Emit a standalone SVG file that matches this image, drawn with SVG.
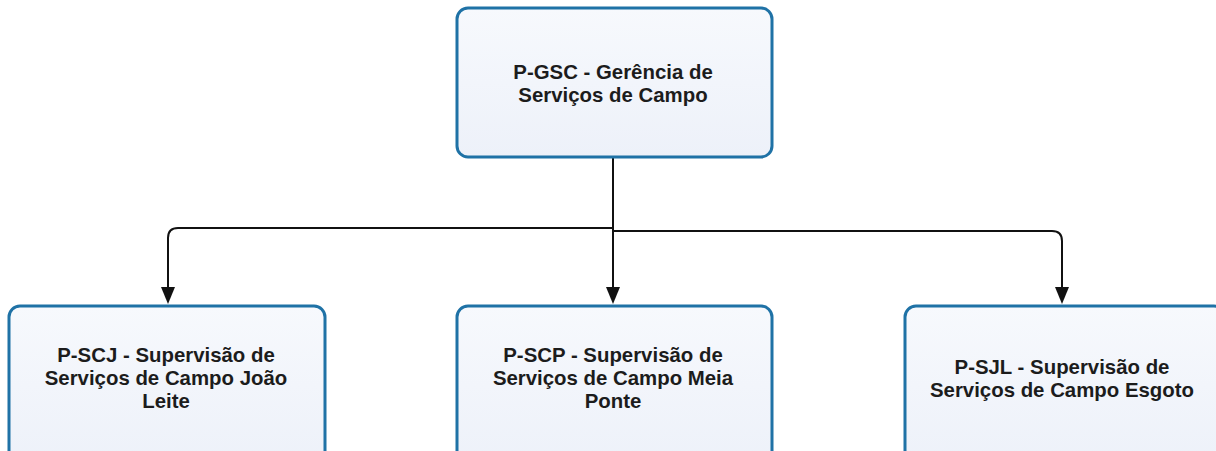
<svg xmlns="http://www.w3.org/2000/svg" width="1216" height="451" viewBox="0 0 1216 451">
<style>
.box{fill:url(#g);stroke:#1f72a6;stroke-width:3}
.t{font-family:"Liberation Sans",Arial,sans-serif;font-weight:bold;font-size:20.4px;fill:#1c1c1c;text-anchor:middle}
.c{fill:none;stroke:#111;stroke-width:2}
.ah{fill:#111}
</style>
<defs>
<linearGradient id="g" x1="0" y1="0" x2="0" y2="1">
<stop offset="0" stop-color="#f7f9fd"/>
<stop offset="1" stop-color="#edf1f9"/>
</linearGradient>
</defs>
<g id="connectors">
<path class="c" d="M613 157 V300"/>
<path class="c" d="M613 228 H178 Q168 228 168 238 V300"/>
<path class="c" d="M613 231 H1052 Q1062 231 1062 241 V300"/>
<path class="ah" d="M161 287 L175 287 L168 304 Z"/>
<path class="ah" d="M606 287 L620 287 L613 304 Z"/>
<path class="ah" d="M1055 287 L1069 287 L1062 304 Z"/>
</g>
<g id="n-gsc">
<rect class="box" x="457" y="8" width="315" height="149" rx="11"/>
<text class="t" x="613" y="79">P-GSC - Gerência de</text>
<text class="t" x="613" y="102">Serviços de Campo</text>
</g>
<g id="n-scj">
<rect class="box" x="9" y="306" width="316" height="160" rx="11"/>
<text class="t" x="166" y="362">P-SCJ - Supervisão de</text>
<text class="t" x="166" y="385">Serviços de Campo João</text>
<text class="t" x="166" y="408">Leite</text>
</g>
<g id="n-scp">
<rect class="box" x="457" y="306" width="315" height="160" rx="11"/>
<text class="t" x="613" y="362">P-SCP - Supervisão de</text>
<text class="t" x="613" y="385">Serviços de Campo Meia</text>
<text class="t" x="613" y="408">Ponte</text>
</g>
<g id="n-sjl">
<rect class="box" x="905" y="306" width="320" height="160" rx="11"/>
<text class="t" x="1062" y="374">P-SJL - Supervisão de</text>
<text class="t" x="1062" y="397">Serviços de Campo Esgoto</text>
</g>
</svg>
